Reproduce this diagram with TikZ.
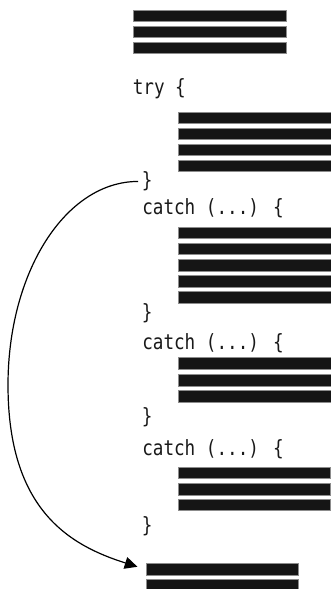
\documentclass[tikz,border=0pt]{standalone}
\usepackage{fontspec}
\usepackage{tikz}
\usetikzlibrary{arrows.meta}
\newfontfamily\codefont[FakeStretch=0.84]{DejaVu Sans Mono}
\definecolor{barfill}{HTML}{151515}

\begin{document}
\begin{tikzpicture}[x=0.75pt, y=-0.75pt,
    codebar/.style={rectangle, fill=barfill, draw=black!45, line width=0.3pt,
        inner sep=0pt, minimum width=114.5pt, minimum height=8.8pt, anchor=north west},
    codeline/.style={inner sep=0pt, anchor=base west,
        font=\codefont\fontsize{15.75}{18}\selectfont, text=black!90}]
    \useasboundingbox (0,0) rectangle (331,589);

    % Statements before the try block
    \foreach \i/\y in {1/9.5, 2/25.5, 3/41.5}
        \node[codebar] (pre\i) at (133,\y) {};

    % try block
    \node[codeline] (tryopen) at (132.5,94.5) {try \{};
    \foreach \i/\y in {1/111.7, 2/127.7, 3/143.7, 4/159.7}
        \node[codebar] (try\i) at (178,\y) {};
    \node[codeline] (tryclose) at (141.5,187.7) {\}};

    % First handler
    \node[codeline] (catchA) at (142,214.3) {catch (...) \{};
    \foreach \i/\y in {1/226.7, 2/242.7, 3/259, 4/275, 5/291}
        \node[codebar] (hdlA\i) at (178,\y) {};
    \node[codeline] (closeA) at (141.5,319.3) {\}};

    % Second handler
    \node[codeline] (catchB) at (142,349.3) {catch (...) \{};
    \foreach \i/\y in {1/357.3, 2/374, 3/390}
        \node[codebar] (hdlB\i) at (178,\y) {};
    \node[codeline] (closeB) at (141.5,423.3) {\}};

    % Third handler
    \node[codeline] (catchC) at (142,455) {catch (...) \{};
    \foreach \i/\y in {1/466.7, 2/483, 3/498.5}
        \node[codebar] (hdlC\i) at (177.7,\y) {};
    \node[codeline] (closeC) at (141.5,532.7) {\}};

    % Statements after the handlers
    \foreach \i/\y in {1/563.3, 2/579}
        \node[codebar] (post\i) at (145.7,\y) {};

    % Jump from the end of the try block past the handlers
    \coordinate (turn) at (8,385);
    \draw[line width=0.9pt, -{Triangle[length=9.5pt, width=9pt]},
          shorten <=2.5pt, shorten >=6.5pt]
        (tryclose.west) .. controls +(-76,0) and +(0,-113) .. (turn)
        .. controls +(0,125) and +(-76,-24) .. (post1.west);
\end{tikzpicture}
\end{document}
